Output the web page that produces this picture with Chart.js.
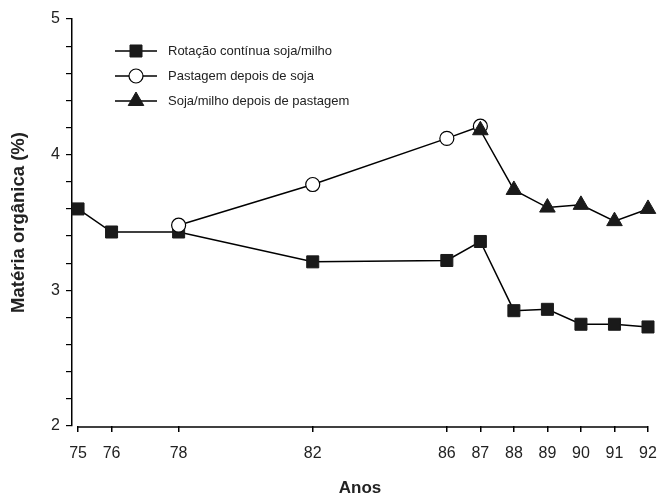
<!DOCTYPE html>
<html>
<head>
<meta charset="utf-8">
<script src="https://cdn.jsdelivr.net/npm/chart.js@4.4.1/dist/chart.umd.min.js"></script>
<style>
  body { margin: 0; background: #fff; }
  #wrap { width: 658px; height: 499px; }
</style>
</head>
<body>
<div id="wrap"><canvas id="chart" width="658" height="499"></canvas></div>
<script>
  // anos mostrados no eixo x
  var anos = [75, 76, 78, 82, 86, 87, 88, 89, 90, 91, 92]

  var anosRotacao = [75, 76, 78, 82, 86, 87, 88, 89, 90, 91, 92]
  var rotacao = [3.60, 3.43, 3.43, 3.21, 3.22, 3.36, 2.85, 2.86, 2.75, 2.75, 2.73]

  var anosPastagem = [78, 82, 86, 87]
  var pastagem = [3.48, 3.78, 4.12, 4.21]

  var anosSoja = [87, 88, 89, 90, 91, 92]
  var sojaMilho = [4.18, 3.74, 3.61, 3.63, 3.51, 3.60]

  var nomes = ['Rotação contínua soja/milho', 'Pastagem depois de soja', 'Soja/milho depois de pastagem']

  function pares(xs, ys) {
    return xs.map(function (x, i) { return { x: x, y: ys[i] } })
  }

  var fonte = "'Liberation Sans', Arial, sans-serif"

  function drawMarker(c, estilo, r, x, y) {
    if (estilo === 'rect') {
      var s = r * Math.SQRT1_2
      c.rect(x - s, y - s, 2 * s, 2 * s)
    } else if (estilo === 'circle') {
      c.arc(x, y, r, 0, Math.PI * 2)
    } else {
      c.moveTo(x, y - r)
      c.lineTo(x + r * 0.866, y + r * 0.5)
      c.lineTo(x - r * 0.866, y + r * 0.5)
      c.closePath()
    }
  }

  // legenda desenhada dentro da área do gráfico + linha do eixo x
  var legendaPlugin = {
    id: 'legendaInterna',
    afterDraw: function (chart) {
      var c = chart.ctx
      var ys = [51, 76, 101]
      c.save()
      chart.data.datasets.forEach(function (ds, i) {
        var y = ys[i]
        c.strokeStyle = '#000'
        c.lineWidth = 1.5
        c.beginPath()
        c.moveTo(115, y)
        c.lineTo(157, y)
        c.stroke()
        c.fillStyle = ds.pointBackgroundColor
        c.strokeStyle = ds.pointBorderColor
        c.lineWidth = ds.pointBorderWidth
        c.beginPath()
        drawMarker(c, ds.pointStyle, ds.pointRadius, 136, y)
        c.fill()
        c.stroke()
        c.fillStyle = '#222'
        c.font = '13px ' + fonte
        c.textBaseline = 'middle'
        c.fillText(ds.label, 168, y)
      })
      var xs = chart.scales.x
      var yb = chart.chartArea.bottom + 1
      c.strokeStyle = '#000'
      c.lineWidth = 1.5
      c.beginPath()
      c.moveTo(xs.getPixelForValue(75), yb)
      c.lineTo(xs.getPixelForValue(92), yb)
      c.stroke()
      c.restore()
    }
  }

  var ctx = document.getElementById('chart')

  var chart = new Chart(ctx, {
    type: 'line',
    data: {
      datasets: [{
        label: nomes[0],
        data: pares(anosRotacao, rotacao),
        borderColor: '#000',
        borderWidth: 1.5,
        pointStyle: 'rect',
        pointRadius: 8.5,
        pointBackgroundColor: '#1a1a1a',
        pointBorderColor: '#1a1a1a',
        pointBorderWidth: 1,
        clip: false,
        order: 3
      }, {
        label: nomes[1],
        data: pares(anosPastagem, pastagem),
        borderColor: '#000',
        borderWidth: 1.5,
        pointStyle: 'circle',
        pointRadius: 7,
        pointBackgroundColor: '#fff',
        pointBorderColor: '#000',
        pointBorderWidth: 1.2,
        clip: false,
        order: 2
      }, {
        label: nomes[2],
        data: pares(anosSoja, sojaMilho),
        borderColor: '#000',
        borderWidth: 1.5,
        pointStyle: 'triangle',
        pointRadius: 9,
        pointBackgroundColor: '#1a1a1a',
        pointBorderColor: '#1a1a1a',
        pointBorderWidth: 1,
        clip: false,
        order: 1
      }]
    },
    options: {
      responsive: false,
      animation: false,
      layout: { padding: { top: 19, right: 0, left: 0, bottom: 0 } },
      plugins: {
        legend: { display: false },
        tooltip: { enabled: false }
      },
      scales: {
        x: {
          type: 'linear',
          min: 74.82,
          max: 92,
          afterBuildTicks: function (axis) {
            axis.ticks = anos.map(function (v) { return { value: v } })
          },
          afterFit: function (axis) {
            axis.height = 73
            axis.paddingLeft = 0
            axis.paddingRight = 8
          },
          border: { display: false },
          grid: {
            drawOnChartArea: false,
            drawTicks: true,
            tickLength: 6,
            color: '#000',
            lineWidth: 1.5
          },
          ticks: {
            color: '#222',
            font: { family: fonte, size: 16 },
            padding: 12,
            maxRotation: 0,
            autoSkip: false
          },
          title: {
            display: true,
            text: 'Anos',
            color: '#222',
            font: { family: fonte, size: 17, weight: 'bold' },
            padding: { top: 16, bottom: 0 }
          }
        },
        y: {
          min: 2,
          max: 5,
          afterFit: function (axis) { axis.width = 72 },
          border: { display: true, color: '#000', width: 1.5 },
          grid: {
            drawOnChartArea: false,
            drawTicks: true,
            tickLength: 6,
            color: '#000',
            lineWidth: 1.2
          },
          ticks: {
            stepSize: 0.2,
            color: '#222',
            font: { family: fonte, size: 16 },
            padding: 6,
            callback: function (v) {
              return Math.abs(v - Math.round(v)) < 0.001 ? Math.round(v) : ''
            }
          },
          title: {
            display: true,
            text: 'Matéria orgânica (%)',
            color: '#222',
            font: { family: fonte, size: 18.5, weight: 'bold' },
            padding: { top: 8, bottom: 0 }
          }
        }
      }
    },
    plugins: [legendaPlugin]
  });
</script>
</body>
</html>
